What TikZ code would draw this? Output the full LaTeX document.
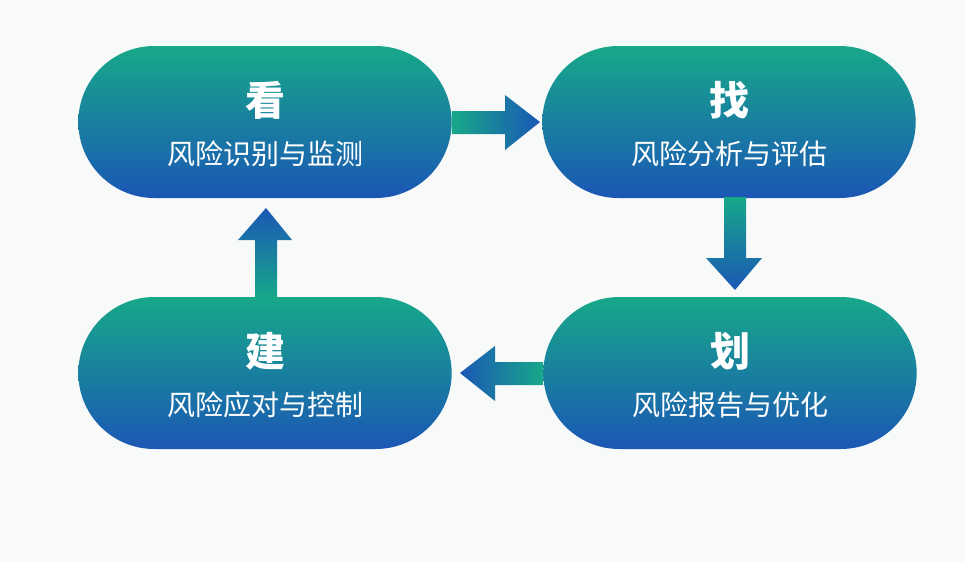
\documentclass[tikz,border=0pt]{standalone}
\usepackage{fontspec}
\newfontfamily\cjk{Noto Sans CJK SC}
\usetikzlibrary{shapes.misc}
\definecolor{tg}{HTML}{17A889}
\definecolor{bb}{HTML}{1B57B5}
\definecolor{bg}{HTML}{F8FAFA}
\tikzset{
 pill/.style={rounded rectangle, minimum width=380pt, minimum height=152pt, top color=tg, bottom color=bb, draw=none, text=white, align=center, font=\cjk},
 big/.style={font=\cjk\bfseries\fontsize{40}{44}\selectfont},
 small/.style={font=\cjk\fontsize{28}{32}\selectfont}
}
\begin{document}
\begin{tikzpicture}[x=1pt,y=-1pt]
\fill[bg] (0,0) rectangle (965,562);
\useasboundingbox (0,0) rectangle (965,562);
\node[pill] (a) at (265,122) {};
\node[pill] (b) at (729,122) {};
\node[pill] (d) at (265,373) {};
\node[pill] (c) at (730,373) {};
\foreach \n/\t/\s in {a/看/风险识别与监测, b/找/风险分析与评估, c/划/风险报告与优化, d/建/风险应对与控制}{
  \node[big,text=white] (\n t) at ([yshift=22pt]\n.center) {\t};
  \node[small,text=white] (\n s) at ([yshift=-32pt]\n.center) {\s};
}
% arrow a -> b
\shade[left color=tg, right color=bb] (a.east |- 0,111) -- (505,111) -- (505,95) -- (540,122) -- (505,150) -- (505,134) -- (a.east |- 0,134) -- cycle;
% arrow b -> c
\shade[top color=tg, bottom color=bb] (724,197) -- (746,197) -- (746,258) -- (762,258) -- (735,290) -- (706,258) -- (724,258) -- cycle;
% arrow c -> d
\shade[right color=tg, left color=bb] (c.west |- 0,362) -- (495,362) -- (495,346) -- (460,373) -- (495,401) -- (495,385) -- (c.west |- 0,385) -- cycle;
% arrow d -> a
\shade[bottom color=tg, top color=bb] (255,297) -- (277,297) -- (277,240) -- (292,240) -- (266,208) -- (238,240) -- (255,240) -- cycle;
\end{tikzpicture}
\end{document}
